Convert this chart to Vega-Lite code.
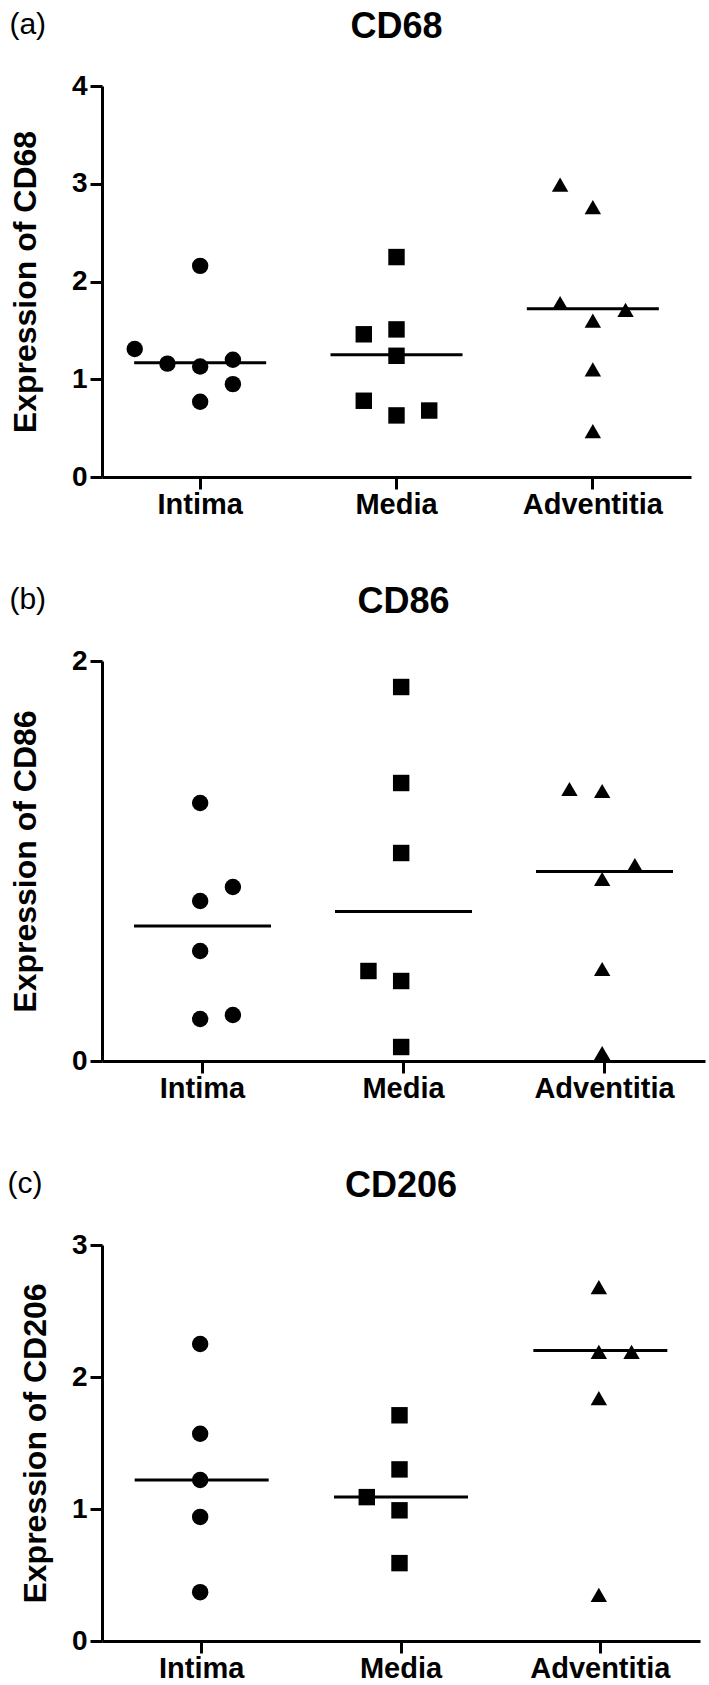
{
  "$schema": "https://vega.github.io/schema/vega-lite/v6.json",
  "background": "white",
  "padding": {"left": 7, "top": 9, "right": 5, "bottom": 2},
  "spacing": 65,
  "config": {
    "font": "Liberation Sans",
    "view": {"stroke": null},
    "axis": {
      "grid": false,
      "domainColor": "black",
      "domainWidth": 3,
      "tickColor": "black",
      "tickWidth": 3,
      "tickSize": 12,
      "labelColor": "black",
      "labelFont": "Liberation Sans",
      "labelFontWeight": "bold",
      "labelOverlap": false,
      "labelFlush": false,
      "titleColor": "black",
      "titleFont": "Liberation Sans",
      "titleFontWeight": "bold",
      "titleFontSize": 32
    },
    "axisX": {"labelFontSize": 29, "labelPadding": 1, "labelAngle": 0},
    "axisY": {"labelFontSize": 28, "labelPadding": 3},
    "title": {"font": "Liberation Sans", "color": "black"}
  },
  "datasets": {
    "points": [
      {"panel": "CD68", "region": "Intima", "value": 2.16, "lane": 0},
      {"panel": "CD68", "region": "Intima", "value": 1.31, "lane": -2},
      {"panel": "CD68", "region": "Intima", "value": 1.16, "lane": -1},
      {"panel": "CD68", "region": "Intima", "value": 1.13, "lane": 0},
      {"panel": "CD68", "region": "Intima", "value": 1.20, "lane": 1},
      {"panel": "CD68", "region": "Intima", "value": 0.95, "lane": 1},
      {"panel": "CD68", "region": "Intima", "value": 0.77, "lane": 0},
      {"panel": "CD68", "region": "Media", "value": 2.25, "lane": 0},
      {"panel": "CD68", "region": "Media", "value": 1.46, "lane": -1},
      {"panel": "CD68", "region": "Media", "value": 1.51, "lane": 0},
      {"panel": "CD68", "region": "Media", "value": 1.24, "lane": 0},
      {"panel": "CD68", "region": "Media", "value": 0.78, "lane": -1},
      {"panel": "CD68", "region": "Media", "value": 0.63, "lane": 0},
      {"panel": "CD68", "region": "Media", "value": 0.68, "lane": 1},
      {"panel": "CD68", "region": "Adventitia", "value": 2.99, "lane": -1},
      {"panel": "CD68", "region": "Adventitia", "value": 2.76, "lane": 0},
      {"panel": "CD68", "region": "Adventitia", "value": 1.78, "lane": -1},
      {"panel": "CD68", "region": "Adventitia", "value": 1.71, "lane": 1},
      {"panel": "CD68", "region": "Adventitia", "value": 1.60, "lane": 0},
      {"panel": "CD68", "region": "Adventitia", "value": 1.10, "lane": 0},
      {"panel": "CD68", "region": "Adventitia", "value": 0.47, "lane": 0},
      {"panel": "CD86", "region": "Intima", "value": 1.29, "lane": 0},
      {"panel": "CD86", "region": "Intima", "value": 0.87, "lane": 1},
      {"panel": "CD86", "region": "Intima", "value": 0.80, "lane": 0},
      {"panel": "CD86", "region": "Intima", "value": 0.55, "lane": 0},
      {"panel": "CD86", "region": "Intima", "value": 0.21, "lane": 0},
      {"panel": "CD86", "region": "Intima", "value": 0.23, "lane": 1},
      {"panel": "CD86", "region": "Media", "value": 1.87, "lane": 0},
      {"panel": "CD86", "region": "Media", "value": 1.39, "lane": 0},
      {"panel": "CD86", "region": "Media", "value": 1.04, "lane": 0},
      {"panel": "CD86", "region": "Media", "value": 0.45, "lane": -1},
      {"panel": "CD86", "region": "Media", "value": 0.40, "lane": 0},
      {"panel": "CD86", "region": "Media", "value": 0.07, "lane": 0},
      {"panel": "CD86", "region": "Adventitia", "value": 1.36, "lane": -1},
      {"panel": "CD86", "region": "Adventitia", "value": 1.35, "lane": 0},
      {"panel": "CD86", "region": "Adventitia", "value": 0.98, "lane": 1},
      {"panel": "CD86", "region": "Adventitia", "value": 0.91, "lane": 0},
      {"panel": "CD86", "region": "Adventitia", "value": 0.46, "lane": 0},
      {"panel": "CD86", "region": "Adventitia", "value": 0.04, "lane": 0},
      {"panel": "CD206", "region": "Intima", "value": 2.25, "lane": 0},
      {"panel": "CD206", "region": "Intima", "value": 1.57, "lane": 0},
      {"panel": "CD206", "region": "Intima", "value": 1.22, "lane": 0},
      {"panel": "CD206", "region": "Intima", "value": 0.94, "lane": 0},
      {"panel": "CD206", "region": "Intima", "value": 0.37, "lane": 0},
      {"panel": "CD206", "region": "Media", "value": 1.71, "lane": 0},
      {"panel": "CD206", "region": "Media", "value": 1.30, "lane": 0},
      {"panel": "CD206", "region": "Media", "value": 1.09, "lane": -1},
      {"panel": "CD206", "region": "Media", "value": 0.99, "lane": 0},
      {"panel": "CD206", "region": "Media", "value": 0.59, "lane": 0},
      {"panel": "CD206", "region": "Adventitia", "value": 2.68, "lane": 0},
      {"panel": "CD206", "region": "Adventitia", "value": 2.19, "lane": 0},
      {"panel": "CD206", "region": "Adventitia", "value": 2.19, "lane": 1},
      {"panel": "CD206", "region": "Adventitia", "value": 1.84, "lane": 0},
      {"panel": "CD206", "region": "Adventitia", "value": 0.35, "lane": 0}
    ],
    "medians": [
      {"panel": "CD68", "region": "Intima", "median": 1.17},
      {"panel": "CD68", "region": "Media", "median": 1.25},
      {"panel": "CD68", "region": "Adventitia", "median": 1.72},
      {"panel": "CD86", "region": "Intima", "median": 0.675},
      {"panel": "CD86", "region": "Media", "median": 0.747},
      {"panel": "CD86", "region": "Adventitia", "median": 0.947},
      {"panel": "CD206", "region": "Intima", "median": 1.22},
      {"panel": "CD206", "region": "Media", "median": 1.09},
      {"panel": "CD206", "region": "Adventitia", "median": 2.2}
    ]
  },
  "vconcat": [
    {
      "title": {"text": "(a)", "anchor": "start", "frame": "bounds", "fontSize": 30, "fontWeight": "normal", "baseline": "bottom", "offset": -61},
      "vconcat": [
        {
          "title": {"text": "CD68", "anchor": "middle", "fontSize": 36, "fontWeight": "bold", "baseline": "bottom", "offset": -10},
          "width": 589,
          "height": 391,
          "layer": [
            {
              "data": {"name": "points"},
              "transform": [{"filter": "datum.panel === 'CD68'"}],
              "mark": {"type": "point", "filled": true, "opacity": 1, "color": "black", "size": 270},
              "encoding": {
                "x": {"field": "region", "type": "nominal", "sort": ["Intima", "Media", "Adventitia"], "scale": {"type": "band", "paddingInner": 0, "paddingOuter": 0}, "title": null},
                "xOffset": {"field": "lane", "type": "nominal", "scale": {"domain": [-2, -1, 0, 1, 2], "paddingInner": 0, "paddingOuter": 1.59}},
                "y": {"field": "value", "type": "quantitative", "scale": {"domain": [0, 4], "nice": false}, "axis": {"values": [0, 1, 2, 3, 4], "format": "d", "titlePadding": 29}, "title": "Expression of CD68"},
                "shape": {"field": "region", "type": "nominal", "scale": {"domain": ["Intima", "Media", "Adventitia"], "range": ["circle", "square", "triangle-up"]}, "legend": null}
              }
            },
            {
              "data": {"name": "medians"},
              "transform": [{"filter": "datum.panel === 'CD68'"}],
              "mark": {"type": "tick", "color": "black", "opacity": 1, "size": 132, "thickness": 3},
              "encoding": {
                "x": {"field": "region", "type": "nominal", "sort": ["Intima", "Media", "Adventitia"]},
                "y": {"field": "median", "type": "quantitative"}
              }
            }
          ]
        }
      ]
    },
    {
      "title": {"text": "(b)", "anchor": "start", "frame": "bounds", "fontSize": 30, "fontWeight": "normal", "baseline": "bottom", "offset": -61},
      "vconcat": [
        {
          "title": {"text": "CD86", "anchor": "middle", "fontSize": 36, "fontWeight": "bold", "baseline": "bottom", "offset": -10},
          "width": 603,
          "height": 400,
          "layer": [
            {
              "data": {"name": "points"},
              "transform": [{"filter": "datum.panel === 'CD86'"}],
              "mark": {"type": "point", "filled": true, "opacity": 1, "color": "black", "size": 270},
              "encoding": {
                "x": {"field": "region", "type": "nominal", "sort": ["Intima", "Media", "Adventitia"], "scale": {"type": "band", "paddingInner": 0, "paddingOuter": 0}, "title": null},
                "xOffset": {"field": "lane", "type": "nominal", "scale": {"domain": [-2, -1, 0, 1, 2], "paddingInner": 0, "paddingOuter": 1.69}},
                "y": {"field": "value", "type": "quantitative", "scale": {"domain": [0, 2], "nice": false}, "axis": {"values": [0, 1, 2], "format": "d", "titlePadding": 29}, "title": "Expression of CD86"},
                "shape": {"field": "region", "type": "nominal", "scale": {"domain": ["Intima", "Media", "Adventitia"], "range": ["circle", "square", "triangle-up"]}, "legend": null}
              }
            },
            {
              "data": {"name": "medians"},
              "transform": [{"filter": "datum.panel === 'CD86'"}],
              "mark": {"type": "tick", "color": "black", "opacity": 1, "size": 137, "thickness": 3},
              "encoding": {
                "x": {"field": "region", "type": "nominal", "sort": ["Intima", "Media", "Adventitia"]},
                "y": {"field": "median", "type": "quantitative"}
              }
            }
          ]
        }
      ]
    },
    {
      "title": {"text": "(c)", "anchor": "start", "frame": "bounds", "fontSize": 30, "fontWeight": "normal", "baseline": "bottom", "offset": -61, "dx": -12},
      "vconcat": [
        {
          "title": {"text": "CD206", "anchor": "middle", "fontSize": 36, "fontWeight": "bold", "baseline": "bottom", "offset": -10},
          "width": 598,
          "height": 396,
          "layer": [
            {
              "data": {"name": "points"},
              "transform": [{"filter": "datum.panel === 'CD206'"}],
              "mark": {"type": "point", "filled": true, "opacity": 1, "color": "black", "size": 270},
              "encoding": {
                "x": {"field": "region", "type": "nominal", "sort": ["Intima", "Media", "Adventitia"], "scale": {"type": "band", "paddingInner": 0, "paddingOuter": 0}, "title": null},
                "xOffset": {"field": "lane", "type": "nominal", "scale": {"domain": [-2, -1, 0, 1, 2], "paddingInner": 0, "paddingOuter": 1.65}},
                "y": {"field": "value", "type": "quantitative", "scale": {"domain": [0, 3], "nice": false}, "axis": {"values": [0, 1, 2, 3], "format": "d", "titlePadding": 19}, "title": "Expression of CD206"},
                "shape": {"field": "region", "type": "nominal", "scale": {"domain": ["Intima", "Media", "Adventitia"], "range": ["circle", "square", "triangle-up"]}, "legend": null}
              }
            },
            {
              "data": {"name": "medians"},
              "transform": [{"filter": "datum.panel === 'CD206'"}],
              "mark": {"type": "tick", "color": "black", "opacity": 1, "size": 134, "thickness": 3},
              "encoding": {
                "x": {"field": "region", "type": "nominal", "sort": ["Intima", "Media", "Adventitia"]},
                "y": {"field": "median", "type": "quantitative"}
              }
            }
          ]
        }
      ]
    }
  ]
}
